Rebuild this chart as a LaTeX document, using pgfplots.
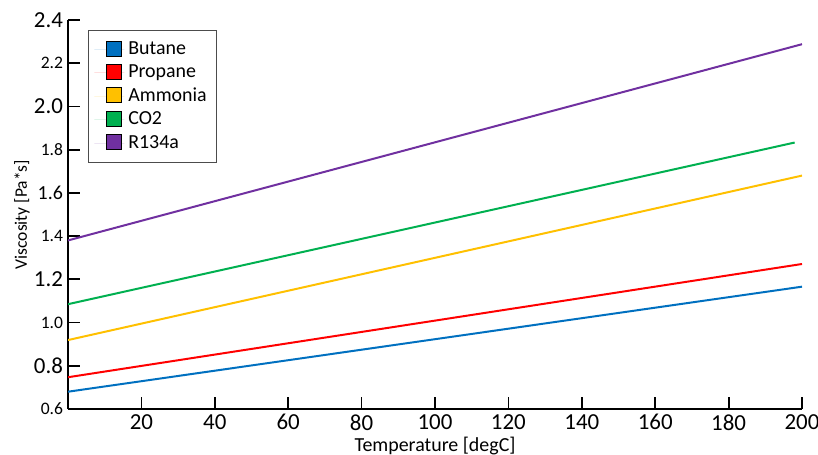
\documentclass[border=0pt]{standalone}
\usepackage{fontspec}
\setmainfont{Carlito}
\usepackage{pgfplots}
\pgfplotsset{compat=1.18}
\usetikzlibrary{calc}

\definecolor{cButane}{HTML}{0070C0}
\definecolor{cPropane}{HTML}{FF0000}
\definecolor{cAmmonia}{HTML}{FFC000}
\definecolor{cCOtwo}{HTML}{00B050}
\definecolor{cRfour}{HTML}{7030A0}

\newcommand{\lgt}{\fontsize{11.5}{12}\selectfont}
\newcommand{\mdt}{\fontsize{10}{11}\selectfont}
\newcommand{\smt}{\fontsize{8.8}{10}\selectfont}

\begin{document}
\begin{tikzpicture}
  \begin{axis}[
    name=ax,
    scale only axis,
    width=367bp, height=194.5bp,
    xmin=0, xmax=200,
    ymin=0.6, ymax=2.4,
    axis x line*=bottom,
    axis y line*=left,
    axis line style={black, line width=0.9pt, -},
    tick style={black, line width=0.9pt},
    tick align=inside,
    major tick length=6bp,
    /pgf/number format/assume math mode=true,
    xtick={20,40,...,200},
    xticklabels={{\lgt 20},{\lgt 40},{\lgt 60},{\lgt 80},{\lgt 100},{\lgt 120},{\lgt 140},{\lgt 160},{\lgt 180},{\lgt 200}},
    ytick={0.6,0.8,1.0,1.2,1.4,1.6,1.8,2.0,2.2,2.4},
    yticklabels={{\smt 0.6},{\lgt 0.8},{\smt 1.0},{\lgt 1.2},{\smt 1.4},{\mdt 1.6},{\smt 1.8},{\lgt 2.0},{\smt 2.2},{\lgt 2.4}},
    xticklabel style={inner ysep=0.5bp, yshift=-2bp},
    yticklabel style={xshift=1bp},
    xlabel={\fontsize{10}{11}\selectfont Temperature [degC]},
    ylabel={\fontsize{8.8}{10}\selectfont Viscosity [Pa*s]},
    xlabel style={at={(axis description cs:0.5,0)}, anchor=center, yshift=-18.6bp, inner ysep=0.5bp},
    ylabel style={at={(axis description cs:-0.0627,0.5)}, anchor=center, rotate=0},
    every axis plot/.append style={line width=1pt},
    legend cell align=left,
    legend style={at={(0.027,0.974)}, anchor=north west,
      draw=black!70, line width=0.5pt,
      font=\fontsize{10}{11}\selectfont,
      inner xsep=3bp, inner ysep=3.5bp,
      row sep=-0.3bp},
    legend image code/.code={
      \path[draw=none] (-6bp,0) -- (9bp,0);
      \draw[#1, line width=0.4pt, draw=black] (0bp,-3.3bp) rectangle (7.5bp,4.2bp);
    },
  ]
    \addplot[cButane, fill=cButane] coordinates {(0,0.680) (200,1.166)};
    \addlegendentry{Butane}
    \addplot[cPropane, fill=cPropane] coordinates {(0,0.747) (200,1.271)};
    \addlegendentry{Propane}
    \addplot[cAmmonia, fill=cAmmonia] coordinates {(0,0.919) (200,1.680)};
    \addlegendentry{Ammonia}
    \addplot[cCOtwo, fill=cCOtwo] coordinates {(0,1.085) (198,1.833)};
    \addlegendentry{CO2}
    \addplot[cRfour, fill=cRfour] coordinates {(0,1.380) (200,2.288)};
    \addlegendentry{R134a}
  \end{axis}
  \pgfresetboundingbox
  \path[use as bounding box] ($(ax.south west)+(-34bp,-23bp)$) rectangle ($(ax.south west)+(375bp,204.5bp)$);
\end{tikzpicture}
\end{document}
